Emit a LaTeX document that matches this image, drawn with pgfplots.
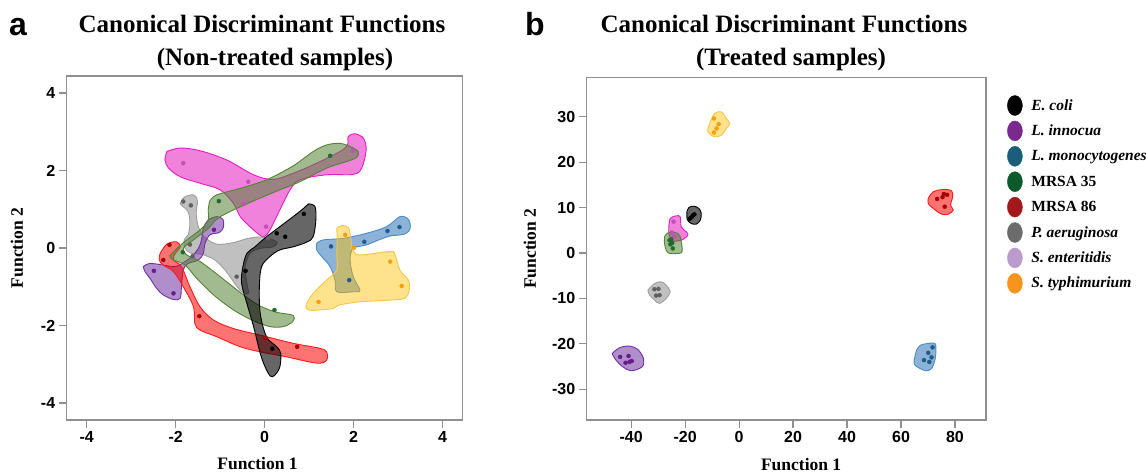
\documentclass[border=0pt]{standalone}
\usepackage{pgfplots}
\pgfplotsset{compat=1.18}
\usepackage{fontspec}
\setmainfont{Liberation Serif}
\newfontfamily\arial{Liberation Sans}

% hull fills / outlines / points
\definecolor{axgray}{HTML}{8F8F8F}
\definecolor{ecfill}{HTML}{000000}\definecolor{ecline}{HTML}{000000}\definecolor{ecdot}{HTML}{000000}
\definecolor{lifill}{HTML}{7030A0}\definecolor{liline}{HTML}{7030A0}\definecolor{lidot}{HTML}{6A1B8A}
\definecolor{lmfill}{HTML}{2E75B6}\definecolor{lmline}{HTML}{4A8BCB}\definecolor{lmdot}{HTML}{1F5C8A}
\definecolor{msafill}{HTML}{548235}\definecolor{msaline}{HTML}{548235}\definecolor{msadot}{HTML}{1E6B2E}
\definecolor{mrbfill}{HTML}{FF0000}\definecolor{mrbline}{HTML}{FF1A1A}\definecolor{mrbdot}{HTML}{A80000}
\definecolor{pafill}{HTML}{8C8C8C}\definecolor{paline}{HTML}{9E9E9E}\definecolor{padot}{HTML}{606060}
\definecolor{sefill}{HTML}{E31CC0}\definecolor{seline}{HTML}{E31CC0}\definecolor{sedot}{HTML}{C250B5}
\definecolor{stfill}{HTML}{FFC000}\definecolor{stline}{HTML}{F7C548}\definecolor{stdot}{HTML}{F3A10A}
% legend
\definecolor{legec}{HTML}{000000}\definecolor{legli}{HTML}{7A2A8E}
\definecolor{leglm}{HTML}{1B5E7A}\definecolor{legmsa}{HTML}{0B5A2B}
\definecolor{legmrb}{HTML}{A3191B}\definecolor{legpa}{HTML}{6B6B6B}
\definecolor{legse}{HTML}{B99BCC}\definecolor{legst}{HTML}{F7941E}

\pgfplotsset{
  cdf/.style={
    scale only axis, anchor=south west,
    axis line style={draw=axgray, line width=1.2pt},
    tick style={draw=axgray, line width=1.2pt},
    major tick length=8pt, tick align=outside,
    xtick pos=bottom, ytick pos=left,
    ticklabel style={font=\fontsize{16}{18}\selectfont\arial\bfseries, text=black},
    label style={font=\fontsize{17.5}{20}\selectfont\bfseries},
  },
  blob/.style={draw=#1line, fill=#1fill, fill opacity=0.55, line width=0.9pt,
    smooth, tension=0.55, mark=none, forget plot},
  dots/.style={only marks, mark=*, mark size=2pt, color=#1dot, forget plot},
  legoval/.style={legend image code/.code={
    \path[draw=none, fill=none] (0pt,-0.1pt) rectangle (22pt,0.1pt);
    \fill[#1] (7.5pt,0pt) ellipse [x radius=7.5pt, y radius=10pt];}},
}

\begin{document}
\begin{tikzpicture}

% ---------- a: non-treated ----------
\begin{axis}[cdf, at={(66.7pt,53pt)}, width=396pt, height=344pt,
  xmin=-4.45, xmax=4.45, ymin=-4.44, ymax=4.44,
  xtick={-4,-2,0,2,4}, xticklabels={-4,-2,0,2,4},
  ytick={-4,-2,0,2,4}, yticklabels={-4,-2,0,2,4},
  xlabel={Function 1}, ylabel={Function 2},
  xlabel style={at={(rel axis cs:0.482,-0.145)}, anchor=base},
  ylabel style={at={(rel axis cs:-0.1255,0.5)}, anchor=center, rotate=0},
]
\addplot[blob=se] coordinates {(-2.20,2.49)(-1.90,2.58)(-1.45,2.51)(-0.85,2.27)(-0.25,1.89)(0.19,1.77)(0.64,1.93)(1.17,2.19)(1.69,2.49)(1.86,2.66)(1.88,2.88)(2.03,2.95)(2.22,2.83)(2.28,2.53)(2.18,2.06)(1.99,1.90)(1.39,1.89)(0.79,1.76)(0.57,1.50)(0.34,0.98)(0.12,0.47)(-0.01,0.29)(-0.14,0.36)(-0.33,0.55)(-0.55,0.81)(-0.70,1.15)(-1.00,1.50)(-1.45,1.67)(-1.90,1.84)(-2.16,2.06)(-2.24,2.27)(-2.20,2.49)};
\addplot[dots=se] coordinates {(-1.83,2.19)(-0.37,1.71)(-0.48,1.13)(0.03,0.55)(1.98,2.50)};

\addplot[blob=pa] coordinates {(-1.90,1.14)(-1.81,1.31)(-1.60,1.37)(-1.51,1.22)(-1.54,0.90)(-1.49,0.55)(-1.36,0.29)(-1.08,0.10)(-0.70,0.14)(-0.37,0.25)(-0.03,0.28)(0.27,0.16)(0.19,0.03)(-0.10,-0.01)(-0.33,-0.14)(-0.44,-0.48)(-0.40,-0.91)(-0.37,-1.17)(-0.52,-1.13)(-0.70,-0.87)(-0.89,-0.57)(-1.12,-0.31)(-1.42,-0.16)(-1.64,-0.14)(-1.79,-0.01)(-1.81,0.21)(-1.72,0.34)(-1.68,0.64)(-1.72,0.94)(-1.84,1.07)(-1.90,1.14)};
\addplot[dots=pa] coordinates {(-1.83,1.20)(-1.66,1.10)(-1.68,0.09)(-1.62,-0.21)(-0.63,-0.74)(0.08,0.25)};

\addplot[blob=li] coordinates {(-2.73,-0.48)(-2.58,-0.40)(-2.28,-0.44)(-2.01,-0.48)(-1.79,-0.35)(-1.64,-0.22)(-1.49,-0.01)(-1.42,0.21)(-1.38,0.51)(-1.27,0.72)(-1.08,0.81)(-0.94,0.74)(-0.93,0.53)(-1.02,0.40)(-1.23,0.34)(-1.34,0.12)(-1.38,-0.14)(-1.49,-0.31)(-1.72,-0.40)(-1.83,-0.57)(-1.87,-1.00)(-1.90,-1.30)(-2.05,-1.33)(-2.28,-1.21)(-2.43,-1.04)(-2.58,-0.78)(-2.69,-0.61)(-2.73,-0.48)};
\addplot[dots=li] coordinates {(-2.49,-0.59)(-2.05,-1.17)(-1.14,0.47)};

\addplot[blob=mrb] coordinates {(-2.35,-0.14)(-2.20,0.10)(-1.98,0.16)(-1.90,0.03)(-2.01,-0.14)(-2.05,-0.31)(-1.87,-0.48)(-1.68,-1.00)(-1.45,-1.52)(-1.15,-1.86)(-0.70,-2.08)(-0.10,-2.25)(0.64,-2.46)(1.24,-2.59)(1.39,-2.68)(1.41,-2.85)(1.32,-2.96)(1.09,-2.96)(0.49,-2.81)(-0.10,-2.68)(-0.55,-2.55)(-1.08,-2.29)(-1.45,-2.12)(-1.57,-1.95)(-1.60,-1.52)(-1.83,-1.00)(-2.05,-0.61)(-2.28,-0.44)(-2.37,-0.31)(-2.35,-0.14)};
\addplot[dots=mrb] coordinates {(-2.14,0.08)(-2.28,-0.31)(-1.47,-1.76)(0.02,-2.32)(0.73,-2.55)};

\addplot[blob=msa] coordinates {(-1.24,1.20)(-1.08,1.37)(-0.55,1.54)(0.04,1.76)(0.64,2.12)(1.09,2.49)(1.39,2.66)(1.69,2.70)(1.92,2.62)(2.10,2.49)(2.07,2.34)(1.84,2.23)(1.39,2.06)(0.79,1.71)(0.19,1.43)(-0.40,1.14)(-0.85,0.90)(-1.08,0.74)(-1.30,0.47)(-1.60,0.21)(-1.83,-0.01)(-1.75,-0.18)(-1.45,-0.35)(-1.00,-0.74)(-0.48,-1.21)(-0.10,-1.50)(0.27,-1.66)(0.64,-1.74)(0.63,-1.90)(0.42,-2.03)(0.12,-2.03)(-0.25,-1.88)(-0.70,-1.60)(-1.15,-1.21)(-1.53,-0.78)(-1.79,-0.44)(-2.05,-0.31)(-2.13,-0.22)(-2.01,-0.05)(-1.75,0.21)(-1.45,0.47)(-1.27,0.72)(-1.27,0.98)(-1.24,1.20)};
\addplot[dots=msa] coordinates {(1.47,2.38)(-1.03,1.21)(-1.84,-0.11)(0.22,-1.60)};

\addplot[blob=ec, fill opacity=0.6] coordinates {(0.98,1.14)(1.13,1.07)(1.15,0.72)(1.09,0.29)(0.94,0.15)(0.64,0.03)(0.34,-0.05)(0.12,-0.22)(-0.07,-0.48)(-0.12,-1.00)(-0.10,-1.69)(0.04,-2.29)(0.27,-2.55)(0.36,-2.72)(0.34,-3.07)(0.23,-3.28)(0.13,-3.31)(0.01,-3.07)(-0.10,-2.72)(-0.25,-2.03)(-0.40,-1.43)(-0.52,-0.91)(-0.49,-0.48)(-0.40,-0.14)(-0.22,0.03)(0.04,0.29)(0.34,0.55)(0.64,0.81)(0.87,1.02)(0.98,1.14)};
\addplot[dots=ec] coordinates {(0.88,0.88)(0.27,0.38)(0.46,0.29)(-0.43,-0.59)(0.17,-2.60)};

\addplot[blob=lm] coordinates {(1.17,0.12)(1.32,0.21)(1.77,0.25)(2.29,0.38)(2.74,0.55)(3.04,0.81)(3.23,0.74)(3.27,0.51)(3.15,0.36)(2.82,0.31)(2.59,0.22)(2.29,0.08)(1.99,-0.01)(1.92,-0.31)(1.99,-0.74)(2.14,-1.09)(1.99,-1.13)(1.62,-1.13)(1.58,-0.83)(1.47,-0.48)(1.28,-0.22)(1.17,-0.05)(1.17,0.12)};
\addplot[dots=lm] coordinates {(1.49,0.04)(2.24,0.16)(2.76,0.44)(3.03,0.54)(1.90,-0.83)};

\addplot[blob=st, fill opacity=0.45] coordinates {(1.62,0.51)(1.73,0.58)(1.88,0.53)(1.93,0.29)(1.98,-0.05)(2.14,-0.18)(2.82,-0.09)(2.93,-0.18)(3.04,-0.57)(3.23,-0.83)(3.25,-1.09)(3.15,-1.30)(2.89,-1.34)(2.14,-1.39)(1.69,-1.47)(1.54,-1.56)(1.24,-1.60)(0.98,-1.60)(0.93,-1.47)(1.09,-1.17)(1.39,-0.83)(1.62,-0.57)(1.62,-0.14)(1.63,0.21)(1.62,0.51)};
\addplot[dots=st] coordinates {(1.81,0.34)(2.82,-0.35)(3.08,-0.98)(1.21,-1.39)(2.01,0.01)};
\end{axis}

% ---------- b: treated ----------
\begin{axis}[cdf, at={(586.7pt,53pt)}, width=399.3pt, height=342.7pt,
  xmin=-56.5, xmax=91.5, ymin=-36.8, ymax=38.7,
  xtick={-40,-20,0,20,40,60,80}, xticklabels={-40,-20,0,20,40,60,80},
  ytick={-30,-20,-10,0,10,20,30}, yticklabels={-30,-20,-10,0,10,20,30},
  xlabel={Function 1}, ylabel={Function 2},
  xlabel style={at={(rel axis cs:0.537,-0.146)}, anchor=base},
  ylabel style={at={(rel axis cs:-0.142,0.5)}, anchor=center, rotate=0},
  legend cell align=left,
  legend style={at={(1.0526,0.948)}, anchor=north west, draw=none, fill=none,
    inner sep=0pt, row sep=5pt, font=\fontsize{15.5}{17}\selectfont\bfseries},
]
\addplot[blob=st, fill opacity=0.45] coordinates {(-10.95,28.52)(-9.09,30.73)(-6.62,31.09)(-4.76,29.62)(-3.53,28.52)(-4.76,27.42)(-6.62,25.95)(-9.09,25.58)(-11.57,26.69)(-10.95,28.52)};
\addplot[dots=st] coordinates {(-9.34,29.62)(-7.61,28.38)(-8.35,27.42)(-9.34,26.54)};

\addplot[blob=ec, fill opacity=0.6] coordinates {(-19.37,9.06)(-18.62,10.02)(-16.76,10.31)(-14.91,9.80)(-14.04,8.70)(-14.41,7.23)(-15.90,6.35)(-17.75,6.49)(-19.24,7.37)(-19.37,9.06)};
\addplot[dots=ec] coordinates {(-18.0,7.7)(-17.1,8.3)(-17.6,7.9)(-18.4,7.5)(-16.6,8.5)};

\addplot[blob=se] coordinates {(-26.05,5.76)(-25.55,7.59)(-23.32,8.18)(-21.84,7.96)(-21.47,5.76)(-19.61,4.66)(-18.99,3.92)(-20.85,2.97)(-23.32,2.60)(-25.18,2.82)(-26.05,4.29)(-26.05,5.76)};
\addplot[dots=se] coordinates {(-24.3,6.9)(-25.0,4.5)(-24.0,3.6)};

\addplot[blob=msa] coordinates {(-27.65,3.55)(-26.42,4.44)(-23.32,4.44)(-21.84,3.55)(-21.10,0.98)(-21.47,0.03)(-23.32,-0.12)(-25.80,-0.12)(-27.04,0.62)(-27.65,2.09)(-27.65,3.55)};
\addplot[dots=msa] coordinates {(-25.8,2.8)(-24.8,2.2)(-25.2,3.0)(-24.6,1.0)(-25.5,1.9)};

\addplot[blob=pa] coordinates {(-33.84,-8.20)(-31.37,-6.73)(-28.89,-6.36)(-27.04,-7.08)(-25.55,-8.55)(-27.04,-10.02)(-29.51,-11.12)(-31.37,-10.39)(-33.22,-9.28)(-33.84,-8.20)};
\addplot[dots=pa] coordinates {(-31.4,-8.0)(-29.9,-7.9)(-30.8,-9.4)(-29.5,-9.3)};

\addplot[blob=li] coordinates {(-47.08,-22.15)(-44.36,-20.89)(-40.64,-20.52)(-37.55,-21.26)(-35.45,-23.24)(-35.94,-25.08)(-40.03,-25.96)(-43.13,-25.08)(-45.85,-23.46)(-47.08,-22.15)};
\addplot[dots=li] coordinates {(-44.1,-22.9)(-41.0,-22.7)(-42.1,-24.2)(-40.6,-24.0)(-39.8,-23.8)};

\addplot[blob=lm] coordinates {(65.76,-21.41)(67.25,-20.31)(70.10,-19.94)(72.57,-19.94)(72.95,-21.41)(72.57,-23.61)(71.33,-25.45)(69.48,-25.96)(67.00,-25.45)(64.90,-24.50)(65.14,-22.88)(65.76,-21.41)};
\addplot[dots=lm] coordinates {(71.7,-20.8)(70.1,-22.0)(71.3,-23.0)(68.5,-23.6)(70.5,-24.0)};

\addplot[blob=mrb] coordinates {(70.09,12.0)(71.95,13.47)(75.66,13.98)(78.75,13.69)(79.12,12.37)(78.38,10.54)(79.37,9.43)(77.52,8.55)(75.04,8.55)(71.95,9.80)(70.09,10.90)(70.09,12.0)};
\addplot[dots=mrb] coordinates {(73.4,11.9)(75.4,12.3)(75.9,13.0)(77.1,12.8)(76.2,10.2)};

\addlegendimage{legoval=legec}\addlegendentry{\textit{E. coli}}
\addlegendimage{legoval=legli}\addlegendentry{\textit{L. innocua}}
\addlegendimage{legoval=leglm}\addlegendentry{\textit{L. monocytogenes}}
\addlegendimage{legoval=legmsa}\addlegendentry{MRSA 35}
\addlegendimage{legoval=legmrb}\addlegendentry{MRSA 86}
\addlegendimage{legoval=legpa}\addlegendentry{\textit{P. aeruginosa}}
\addlegendimage{legoval=legse}\addlegendentry{\textit{S. enteritidis}}
\addlegendimage{legoval=legst}\addlegendentry{\textit{S. typhimurium}}
\end{axis}

% titles and panel letters
\begin{scope}[every node/.style={font=\fontsize{25}{28}\selectfont\bfseries, anchor=base, inner sep=0pt}]
\node at (262pt,440pt) {Canonical Discriminant Functions};
\node at (275pt,407pt) {(Non-treated samples)};
\node at (784pt,440pt) {Canonical Discriminant Functions};
\node at (791pt,407pt) {(Treated samples)};
\end{scope}
\node[font=\fontsize{32}{34}\selectfont\arial\bfseries, anchor=base west, inner sep=0pt] at (9pt,437pt) {a};
\node[font=\fontsize{32}{34}\selectfont\arial\bfseries, anchor=base west, inner sep=0pt] at (525pt,437pt) {b};

\pgfresetboundingbox
\useasboundingbox (0pt,0pt) rectangle (1146pt,473pt);
\end{tikzpicture}
\end{document}
